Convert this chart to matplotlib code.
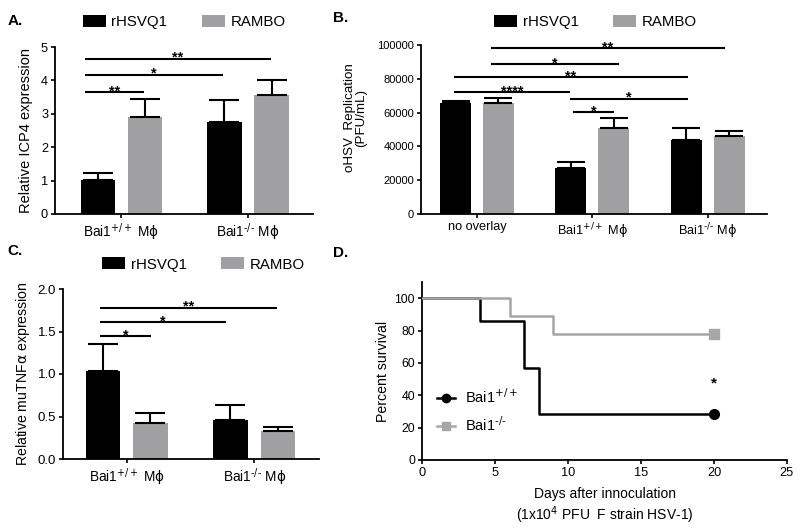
import matplotlib
matplotlib.use('Agg')
import matplotlib.pyplot as plt
import numpy as np
from matplotlib.patches import Patch
from matplotlib.lines import Line2D

plt.rcParams['font.family'] = ['Liberation Sans', 'DejaVu Sans']
plt.rcParams['mathtext.fontset'] = 'custom'
plt.rcParams['mathtext.rm'] = 'DejaVu Sans'
plt.rcParams['mathtext.it'] = 'DejaVu Sans:italic'
plt.rcParams['mathtext.bf'] = 'DejaVu Sans:bold'
plt.rcParams['mathtext.sf'] = 'DejaVu Sans'

# ---------------- data ----------------
series = ['rHSVQ1', 'RAMBO']
series_colors = ['#000000', '#a0a0a3']

WT = r'Bai1$^{\mathrm{+/+}}$ M$\mathrm{\phi}$'
KO = r'Bai1$^{\text{-/-}}$ M$\mathrm{\phi}$'

# Panel A: relative ICP4 expression
a_groups = [WT, KO]
a_rhsv = [1.03, 2.74]
a_rhsv_err = [0.19, 0.66]
a_rambo = [2.90, 3.57]
a_rambo_err = [0.53, 0.44]
a_sig_x1 = [-0.29, -0.29, -0.29]
a_sig_x2 = [1.18, 0.80, 0.18]
a_sig_y = [4.65, 4.17, 3.645]
a_sig_lab = ['**', '*', '**']

# Panel B: oHSV replication (PFU/mL)
b_groups = ['no overlay', WT, KO]
b_rhsv = [65400, 27000, 43700]
b_rhsv_err = [1600, 3500, 7300]
b_rambo = [65400, 50600, 45900]
b_rambo_err = [3000, 6500, 3500]
b_sig_x1 = [0.12, 0.12, -0.20, -0.20, 0.81, 0.83]
b_sig_x2 = [2.15, 1.23, 1.83, 0.81, 1.83, 1.19]
b_sig_y = [98200, 88600, 80900, 72000, 68100, 60200]
b_sig_lab = ['**', '*', '**', '****', '*', '*']

# Panel C: relative muTNFalpha expression
c_groups = [WT, KO]
c_rhsv = [1.04, 0.46]
c_rhsv_err = [0.31, 0.18]
c_rambo = [0.42, 0.33]
c_rambo_err = [0.12, 0.045]
c_sig_x1 = [-0.21, -0.21, -0.21]
c_sig_x2 = [1.18, 0.78, 0.19]
c_sig_y = [1.78, 1.608, 1.447]
c_sig_lab = ['**', '*', '*']

# Panel D: survival
d_days_wt = [0, 4, 7, 8, 20]
d_surv_wt = [100, 85.7, 57.1, 28.6, 28.6]
d_days_ko = [0, 6, 9, 20]
d_surv_ko = [100, 88.9, 77.8, 77.8]
d_labels = [r'Bai1$^{\mathrm{+/+}}$', r'Bai1$^{\text{-/-}}$']
d_colors = ['#000000', '#a6a6a6']
d_star = (20, 50.7)

# ---------------- layout ----------------
W, H = 800, 530
DPI = 100
fig = plt.figure(figsize=(W / DPI, H / DPI), dpi=DPI)


def px_axes(l, t, r, b):
    return fig.add_axes([l / W, 1 - b / H, (r - l) / W, (b - t) / H])


def style(ax, ysize, xsize):
    for s in ['top', 'right']:
        ax.spines[s].set_visible(False)
    for s in ['left', 'bottom']:
        ax.spines[s].set_linewidth(1.3)
    ax.tick_params(direction='out', length=3, width=1.2, pad=2)
    ax.tick_params(axis='y', labelsize=ysize)
    ax.tick_params(axis='x', labelsize=xsize)


OFF = 0.186
BW = 0.27


def bar_panel(ax, groups, vals, errs, sig, xlim, ylim, yticks, ylabels, ysize, xsize):
    x = np.arange(len(groups))
    ax.set_xlim(*xlim)
    ax.set_ylim(*ylim)
    axw_px = ax.get_position().width * W
    bw_px = BW / (xlim[1] - xlim[0]) * axw_px
    cap = 0.9 * bw_px / 2 / (DPI / 72)
    for i, (v, e) in enumerate(zip(vals, errs)):
        pos = x + (2 * i - 1) * OFF
        ax.bar(pos, v, BW, color=series_colors[i], zorder=2)
        ax.errorbar(pos, v, yerr=[np.zeros(len(x)), e], fmt='none', ecolor='black',
                    elinewidth=1.5, capsize=cap, capthick=1.5, zorder=3)
    for x1, x2, y, lab in zip(*sig):
        ax.plot([x1, x2], [y, y], color='black', lw=1.5, clip_on=False,
                solid_capstyle='butt', zorder=4)
        ax.annotate(lab, ((x1 + x2) / 2, y), xytext=(0, -2.2), textcoords='offset points',
                    ha='center', va='baseline', fontsize=10.5, fontweight='bold',
                    annotation_clip=False)
    ax.set_xticks(x)
    ax.set_xticklabels(groups)
    ax.set_yticks(yticks)
    ax.set_yticklabels(ylabels)
    style(ax, ysize, xsize)


def top_legend(x_px, y_px):
    handles = [Patch(facecolor=c, edgecolor='none') for c in series_colors]
    fig.legend(handles, series, loc='center left', bbox_to_anchor=(x_px / W, 1 - y_px / H),
               bbox_transform=fig.transFigure, ncol=2, frameon=False, fontsize=10.8,
               handlelength=1.5, handleheight=0.82, handletextpad=0.4, columnspacing=2.3,
               borderpad=0, borderaxespad=0)


# Panel A
axA = px_axes(55, 47, 313, 214)
bar_panel(axA, a_groups, [a_rhsv, a_rambo], [a_rhsv_err, a_rambo_err],
          (a_sig_x1, a_sig_x2, a_sig_y, a_sig_lab), (-0.523, 1.513), (0, 5),
          [0, 1, 2, 3, 4, 5], ['0', '1', '2', '3', '4', '5'], 9.2, 9.8)
axA.set_ylabel('Relative ICP4 expression', fontsize=10.5, labelpad=6)
top_legend(83, 22)

# Panel B
axB = px_axes(421, 45, 767, 214)
bar_panel(axB, b_groups, [b_rhsv, b_rambo], [b_rhsv_err, b_rambo_err],
          (b_sig_x1, b_sig_x2, b_sig_y, b_sig_lab), (-0.486, 2.515), (0, 100000),
          [0, 20000, 40000, 60000, 80000, 100000],
          ['0', '20000', '40000', '60000', '80000', '100000'], 8.0, 9.2)
axB.set_ylabel('oHSV  Replication\n(PFU/mL)', fontsize=9.6, linespacing=0.95)
axB.yaxis.set_label_coords(-0.155, 0.57)
top_legend(494, 22)

# Panel C
axC = px_axes(63, 289, 319, 459)
bar_panel(axC, c_groups, [c_rhsv, c_rambo], [c_rhsv_err, c_rambo_err],
          (c_sig_x1, c_sig_x2, c_sig_y, c_sig_lab), (-0.5, 1.509), (0, 2.0),
          [0, 0.5, 1.0, 1.5, 2.0], ['0.0', '0.5', '1.0', '1.5', '2.0'], 9.5, 9.8)
axC.set_ylabel(r'Relative muTNF$\mathrm{\alpha}$ expression', fontsize=10.2, labelpad=4)
top_legend(102, 264.5)

# Panel D
axD = px_axes(422, 282, 787, 460)
axD.set_xlim(0, 25)
axD.set_ylim(0, 110)
for days, surv, col, mk in [(d_days_wt, d_surv_wt, d_colors[0], 'o'),
                            (d_days_ko, d_surv_ko, d_colors[1], 's')]:
    axD.step(days, surv, where='post', color=col, lw=1.8, zorder=3)
    axD.plot(days[-1], surv[-1], marker=mk, color=col, markersize=7, zorder=4,
             clip_on=False)
axD.annotate('*', d_star, xytext=(0, -7), textcoords='offset points', ha='center',
             va='baseline', fontsize=11, fontweight='bold')
axD.set_xticks([0, 5, 10, 15, 20, 25])
axD.set_yticks([0, 20, 40, 60, 80, 100])
axD.set_ylabel('Percent survival', fontsize=10.2, labelpad=3)
style(axD, 8.8, 9.2)
fig.text(605 / W, 1 - 494 / H, 'Days after innoculation', fontsize=10,
         ha='center', va='center')
fig.text(605 / W, 1 - 515 / H, r'(1x10$^{\mathrm{4}}$ PFU  F strain HSV-1)', fontsize=10,
         ha='center', va='center')
d_handles = [Line2D([], [], color=d_colors[0], lw=1.8, marker='o', markersize=6),
             Line2D([], [], color=d_colors[1], lw=1.8, marker='s', markersize=6)]
fig.legend(d_handles, d_labels, loc='center left', bbox_to_anchor=(437 / W, 1 - 411 / H),
           bbox_transform=fig.transFigure, frameon=False, fontsize=10.5,
           handlelength=1.25, handletextpad=0.7, labelspacing=0.65, borderpad=0,
           borderaxespad=0)

# Panel labels
for lab, xp, yp in [('A.', 8, 21), ('B.', 333, 18), ('C.', 7, 251), ('D.', 333, 253)]:
    fig.text(xp / W, 1 - yp / H, lab, fontsize=11, fontweight='bold', ha='left', va='center')

fig.savefig('out.png', dpi=DPI)
